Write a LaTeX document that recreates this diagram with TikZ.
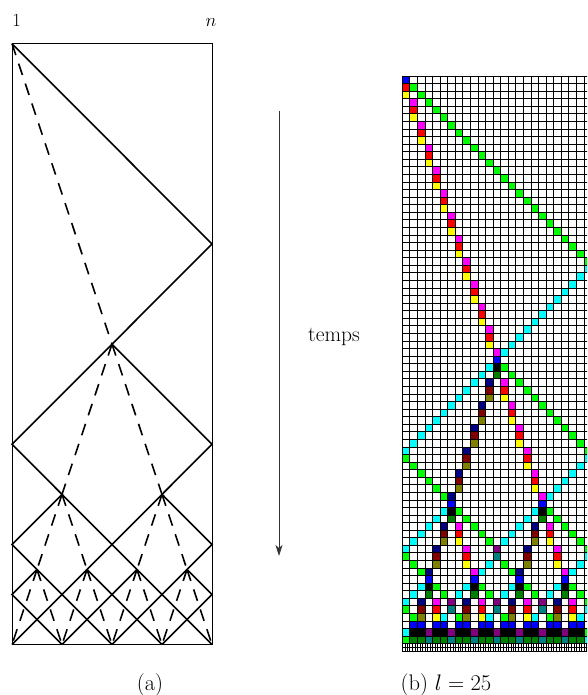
\RequirePackage{fix-cm}
\documentclass[tikz,border=0pt]{standalone}
\usepackage{fontspec}
\usetikzlibrary{arrows.meta}
\definecolor{cBlue}{RGB}{0,0,255}
\definecolor{cRed}{RGB}{255,0,0}
\definecolor{cYel}{RGB}{255,255,0}
\definecolor{cMag}{RGB}{255,0,255}
\definecolor{cGre}{RGB}{0,255,0}
\definecolor{cCya}{RGB}{0,255,255}
\definecolor{cBla}{RGB}{0,0,0}
\definecolor{cDGr}{RGB}{0,128,0}
\definecolor{cNav}{RGB}{0,0,128}
\definecolor{cMar}{RGB}{128,0,0}
\definecolor{cOli}{RGB}{128,128,0}
\definecolor{cPur}{RGB}{128,0,128}
\definecolor{cTea}{RGB}{0,128,128}
\newcommand{\gcell}[3]{\fill[#3] ({#2},{#1}) rectangle ++(1,1);}
\begin{document}
\begin{tikzpicture}[x=1pt,y=-1pt,
  sigline/.style={line width=1.6pt, line join=miter},
  slowline/.style={line width=1.6pt, dash pattern=on 12pt off 9pt},
  boxframe/.style={line width=0.8pt},
  gridline/.style={line width=0.85pt, black},
  fireline/.style={line width=0.5pt, black},
  lbltext/.style={font=\fontsize{18.5}{22}\selectfont, inner sep=0pt, anchor=base},
  tmtext/.style={font=\fontsize{21.5}{25}\selectfont, inner sep=0pt, anchor=base},
  captext/.style={font=\fontsize{22.5}{26}\selectfont, inner sep=0pt, anchor=base}]
\useasboundingbox (0,0) rectangle (587,695);
\clip (0,0) rectangle (587,695);

% ---------- panel (a) ----------
\node[lbltext] (one) at (16.5,26.7) {1};
\node[lbltext] (nn) at (211,26.7) {$n$};
\begin{scope}[shift={(12,43.7)}, x=200pt, y=-200.3pt]
  \draw[boxframe] (0,0) rectangle (1,3);
  \draw[sigline] (0,0) -- (1,1) -- (0,2) -- (1,3);
  \draw[sigline] (0.5,1.5) -- (1,2) -- (0,3);
  \draw[sigline] (0.25,2.25) -- (0,2.5) -- (0.5,3);
  \draw[sigline] (0.75,2.25) -- (1,2.5) -- (0.5,3);
  \draw[sigline] (0.125,2.625) -- (0,2.75) -- (0.25,3);
  \draw[sigline] (0.375,2.625) -- (0.5,2.75) -- (0.25,3);
  \draw[sigline] (0.625,2.625) -- (0.5,2.75) -- (0.75,3);
  \draw[sigline] (0.875,2.625) -- (1,2.75) -- (0.75,3);
  \draw[slowline] (0,0) -- (0.5,1.5);
  \draw[slowline] (0.5,1.5) -- (0.25,2.25);
  \draw[slowline] (0.5,1.5) -- (0.75,2.25);
  \foreach \x in {0.25,0.75}{
    \draw[slowline] (\x,2.25) -- (\x-0.125,2.625);
    \draw[slowline] (\x,2.25) -- (\x+0.125,2.625);}
  \foreach \x in {0.125,0.375,0.625,0.875}{
    \draw[slowline] (\x,2.625) -- (\x-0.125,3);
    \draw[slowline] (\x,2.625) -- (\x+0.125,3);}
\end{scope}
\node[captext] (capa) at (150,690) {(a)};

% ---------- time arrow ----------
\coordinate (tA) at (279,110.7);
\coordinate (tB) at (279,556);
\draw[-{Stealth[length=11pt,width=7pt,inset=3pt]}, line width=0.9pt, black!80] (tA) -- (tB);
\node[tmtext] (temps) at (334,341) {temps};

% ---------- panel (b) ----------
\begin{scope}[shift={(402.3,76)}, x=7.57pt, y=-7.57pt]
  % level 0
  \gcell{0}{0}{cBlue}\gcell{1}{0}{cRed}\gcell{2}{0}{cYel}
  \foreach \c in {1,...,11}{\gcell{3*\c}{\c}{cMag}\gcell{3*\c+1}{\c}{cRed}\gcell{3*\c+2}{\c}{cYel}}
  \foreach \t in {1,...,24}{\gcell{\t}{\t}{cGre}}
  \foreach \c in {0,...,11}{\gcell{49-\c}{\c}{cCya}}
  \foreach \c in {13,...,24}{\gcell{49-\c}{\c}{cCya}}
  \gcell{36}{12}{cMag}\gcell{37}{12}{cBlue}\gcell{38}{12}{cBla}\gcell{39}{12}{cDGr}
  % level 1
  \foreach \c in {13,...,24}{\gcell{\c+25}{\c}{cGre}}
  \foreach \c in {19,...,24}{\gcell{74-\c}{\c}{cCya}}
  \foreach \c in {13,...,17}{\gcell{3*\c+1}{\c}{cMag}\gcell{3*\c+2}{\c}{cRed}\gcell{3*\c+3}{\c}{cYel}}
  \gcell{55}{18}{cMag}\gcell{56}{18}{cBlue}\gcell{57}{18}{cBla}\gcell{58}{18}{cDGr}
  \foreach \c in {0,...,5}{\gcell{50+\c}{\c}{cGre}}
  \foreach \c in {7,...,11}{\gcell{73-3*\c}{\c}{cNav}\gcell{74-3*\c}{\c}{cMar}\gcell{75-3*\c}{\c}{cOli}}
  \gcell{55}{6}{cNav}\gcell{56}{6}{cBlue}\gcell{57}{6}{cBla}\gcell{58}{6}{cDGr}
  % level 2
  \foreach \g in {6,18}{
    \foreach \k in {1,...,5}{\gcell{56+\k}{\g-\k}{cCya}\gcell{56+\k}{\g+\k}{cGre}}
    \foreach \j in {1,2}{
      \gcell{56+3*\j}{\g-\j}{cNav}\gcell{57+3*\j}{\g-\j}{cMar}\gcell{58+3*\j}{\g-\j}{cOli}
      \gcell{56+3*\j}{\g+\j}{cMag}\gcell{57+3*\j}{\g+\j}{cRed}\gcell{58+3*\j}{\g+\j}{cYel}}
    \gcell{65}{\g-3}{cNav}\gcell{65}{\g+3}{cMag}}
  \gcell{62}{0}{cCya}\gcell{62}{12}{cPur}\gcell{62}{24}{cGre}
  \gcell{63}{0}{cGre}\gcell{63}{12}{cTea}\gcell{63}{24}{cCya}
  \foreach \k in {1,2}{\gcell{63+\k}{\k}{cGre}\gcell{63+\k}{12-\k}{cCya}\gcell{63+\k}{12+\k}{cGre}\gcell{63+\k}{24-\k}{cCya}}
  % level 3
  \foreach \h in {3,9,15,21}{
    \gcell{66}{\h}{cBlue}\gcell{67}{\h}{cBla}\gcell{68}{\h}{cDGr}
    \gcell{67}{\h-1}{cCya}\gcell{68}{\h-2}{cCya}\gcell{67}{\h+1}{cGre}\gcell{68}{\h+2}{cGre}
    \gcell{69}{\h-1}{cNav}\gcell{70}{\h-1}{cMar}\gcell{71}{\h-1}{cOli}
    \gcell{69}{\h+1}{cMag}\gcell{70}{\h+1}{cRed}\gcell{71}{\h+1}{cYel}}
  \gcell{69}{0}{cCya}\gcell{69}{24}{cGre}\gcell{70}{0}{cGre}\gcell{70}{24}{cCya}
  \foreach \m in {6,12,18}{\gcell{69}{\m}{cPur}\gcell{70}{\m}{cTea}}
  \foreach \m in {0,6,12,18}{\gcell{71}{\m+1}{cGre}}
  \foreach \m in {6,12,18,24}{\gcell{71}{\m-1}{cCya}}
  % level 4
  \foreach \m in {0,3,...,21}{
    \gcell{72}{\m+1}{cBlue}\gcell{72}{\m+2}{cBlue}
    \gcell{73}{\m+1}{cBla}\gcell{73}{\m+2}{cBla}
    \gcell{74}{\m+1}{cDGr}\gcell{74}{\m+2}{cDGr}}
  \foreach \m in {3,6,...,21}{\gcell{73}{\m}{cPur}\gcell{74}{\m}{cTea}}
  \gcell{73}{0}{cCya}\gcell{73}{24}{cGre}\gcell{74}{0}{cGre}\gcell{74}{24}{cCya}
  % grid
  \foreach \i in {0,...,25}{\draw[gridline] (\i,0) -- (\i,76);}
  \foreach \j in {0,...,76}{\draw[gridline] (0,\j) -- (25,\j);}
  % fired row
  \foreach \c in {0,...,24}{\draw[fireline] (\c+0.33,75) -- (\c+0.33,76) (\c+0.67,75) -- (\c+0.67,76);}
  \draw[fireline] (0,75.5) -- (25,75.5);
\end{scope}
\node[captext] (capb) at (446,690) {(b)~$l=25$};
\end{tikzpicture}
\end{document}
